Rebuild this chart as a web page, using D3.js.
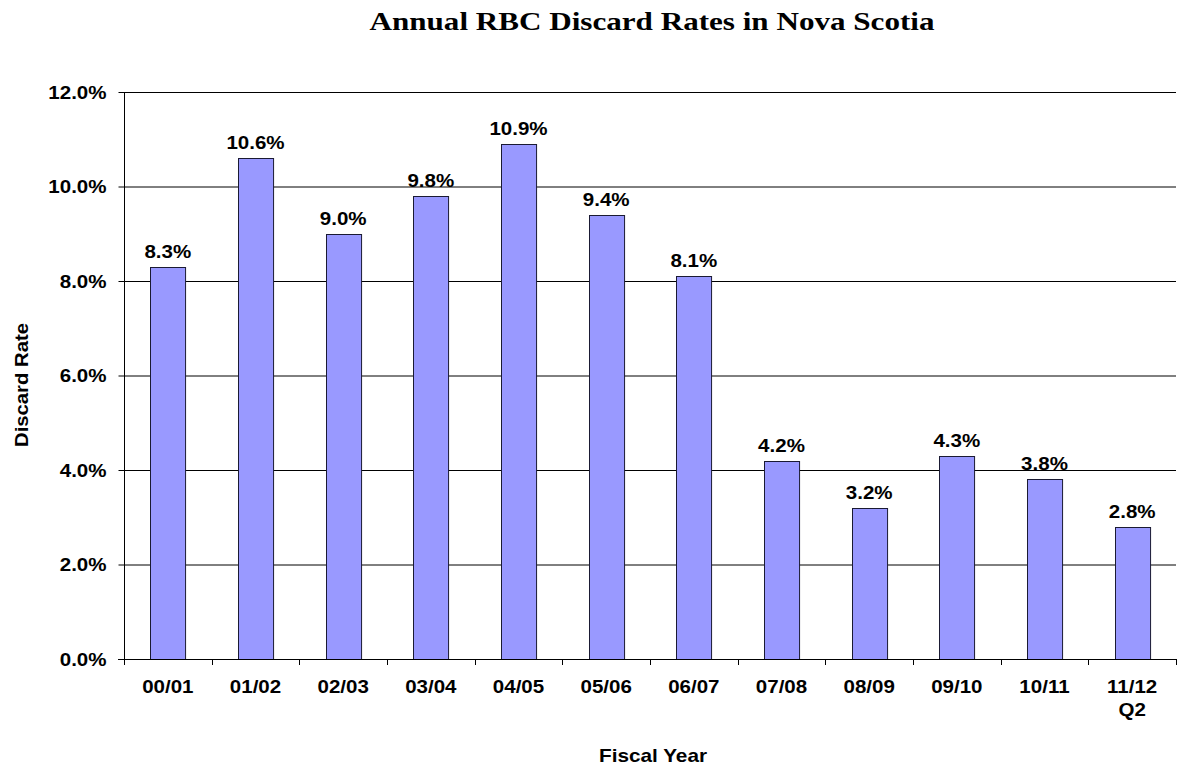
<!DOCTYPE html>
<html>
<head>
<meta charset="utf-8">
<script src="https://cdn.jsdelivr.net/npm/d3@7"></script>
<style>
  html, body { margin: 0; padding: 0; background: #fff; }
  svg { display: block; }
</style>
</head>
<body>
<svg id="chart" width="1177" height="767"></svg>
<script>
// Fiscal years and their red blood cell discard rates (%)
const years = ["00/01", "01/02", "02/03", "03/04", "04/05", "05/06", "06/07", "07/08", "08/09", "09/10", "10/11", "11/12\nQ2"];
const rates = [8.3, 10.6, 9.0, 9.8, 10.9, 9.4, 8.1, 4.2, 3.2, 4.3, 3.8, 2.8];
const yTicks = [0, 2, 4, 6, 8, 10, 12];

const svg = d3.select("#chart");
const margin = { left: 124, right: 1176, top: 92, bottom: 659 };
const sans = "Liberation Sans, Arial, sans-serif";
const labelSize = 19;
const widen = 1.08; // slightly wide lettering for labels

// Stretch a text (or tspan) horizontally by a fixed factor
function stretch(sel) {
  sel.each(function() {
    const len = this.getComputedTextLength();
    d3.select(this).attr("textLength", len * widen).attr("lengthAdjust", "spacingAndGlyphs");
  });
}

const x = d3.scaleBand().domain(years).range([margin.left, margin.right]).paddingInner(0.6).paddingOuter(0.3);
const band = d3.scaleBand().domain(years).range([margin.left, margin.right]);
const y = d3.scaleLinear().domain([0, 12]).range([margin.bottom, margin.top]);

// Horizontal gridlines
svg.append("g").selectAll("line").data(yTicks.filter(d => d > 0)).join("line")
  .attr("x1", margin.left).attr("x2", margin.right)
  .attr("y1", d => y(d) + 0.5).attr("y2", d => y(d) + 0.5)
  .attr("stroke", "#000").attr("stroke-width", 1);

// Bars
svg.append("g").selectAll("rect").data(rates).join("rect")
  .attr("x", (d, i) => Math.round(x(years[i])) + 0.5)
  .attr("y", d => Math.round(y(d)) + 0.5)
  .attr("width", x.bandwidth())
  .attr("height", d => y(0) - Math.round(y(d)))
  .attr("fill", "#9999ff")
  .attr("stroke", "#1a1a33")
  .attr("stroke-width", 1);

// Value labels
svg.append("g").selectAll("text").data(rates).join("text")
  .attr("x", (d, i) => x(years[i]) + x.bandwidth() / 2)
  .attr("y", d => y(d) - 9)
  .attr("text-anchor", "middle")
  .attr("font-family", sans)
  .attr("font-weight", "bold")
  .attr("font-size", labelSize)
  .text(d => d.toFixed(1) + "%")
  .call(stretch);

// Y axis
const yAxis = svg.append("g")
  .attr("transform", `translate(${margin.left + 0.5},0)`)
  .call(d3.axisLeft(y).tickValues(yTicks).tickSize(6).tickPadding(12).tickFormat(d => d.toFixed(1) + "%"));
yAxis.select(".domain").attr("stroke", "#000").attr("d", `M0,${margin.top}V${margin.bottom + 0.5}`);
yAxis.selectAll(".tick line").attr("stroke", "#000");
yAxis.selectAll("text")
  .attr("font-family", sans)
  .attr("font-weight", "bold").attr("font-size", labelSize)
  .attr("fill", "#000")
  .call(stretch);

// X axis baseline with tick marks at band edges
const xg = svg.append("g");
xg.append("line")
  .attr("x1", margin.left - 6).attr("x2", margin.right)
  .attr("y1", margin.bottom + 0.5).attr("y2", margin.bottom + 0.5)
  .attr("stroke", "#000");
xg.selectAll("line.tick").data(years.concat(["end"])).join("line")
  .attr("class", "tick")
  .attr("x1", (d, i) => Math.round(margin.left + i * band.bandwidth()) + 0.5)
  .attr("x2", (d, i) => Math.round(margin.left + i * band.bandwidth()) + 0.5)
  .attr("y1", margin.bottom).attr("y2", margin.bottom + 6)
  .attr("stroke", "#000");

// Category labels (multi-line where needed)
const xl = xg.selectAll("text").data(years).join("text")
  .attr("x", d => band(d) + band.bandwidth() / 2)
  .attr("y", 693)
  .attr("text-anchor", "middle")
  .attr("font-family", sans)
  .attr("font-weight", "bold").attr("font-size", labelSize);
xl.each(function(d) {
  const lines = d.split("\n");
  d3.select(this).selectAll("tspan").data(lines).join("tspan")
    .attr("x", band(d) + band.bandwidth() / 2)
    .attr("dy", (l, i) => i === 0 ? 0 : 23)
    .text(l => l)
    .call(stretch);
});

// Axis titles
svg.append("text")
  .attr("x", 653).attr("y", 762)
  .attr("text-anchor", "middle")
  .attr("font-family", sans)
  .attr("font-weight", "bold").attr("font-size", 19)
  .attr("textLength", 108).attr("lengthAdjust", "spacingAndGlyphs")
  .text("Fiscal Year");

svg.append("text")
  .attr("transform", "translate(28,385) rotate(-90)")
  .attr("text-anchor", "middle")
  .attr("font-family", sans)
  .attr("font-weight", "bold").attr("font-size", 19)
  .attr("textLength", 124).attr("lengthAdjust", "spacingAndGlyphs")
  .text("Discard Rate");

// Chart title
svg.append("text")
  .attr("x", 652).attr("y", 30)
  .attr("text-anchor", "middle")
  .attr("font-family", "Liberation Serif, Times New Roman, serif")
  .attr("font-weight", "bold").attr("font-size", 25)
  .attr("textLength", 565).attr("lengthAdjust", "spacingAndGlyphs")
  .text("Annual RBC Discard Rates in Nova Scotia");
</script>
</body>
</html>
